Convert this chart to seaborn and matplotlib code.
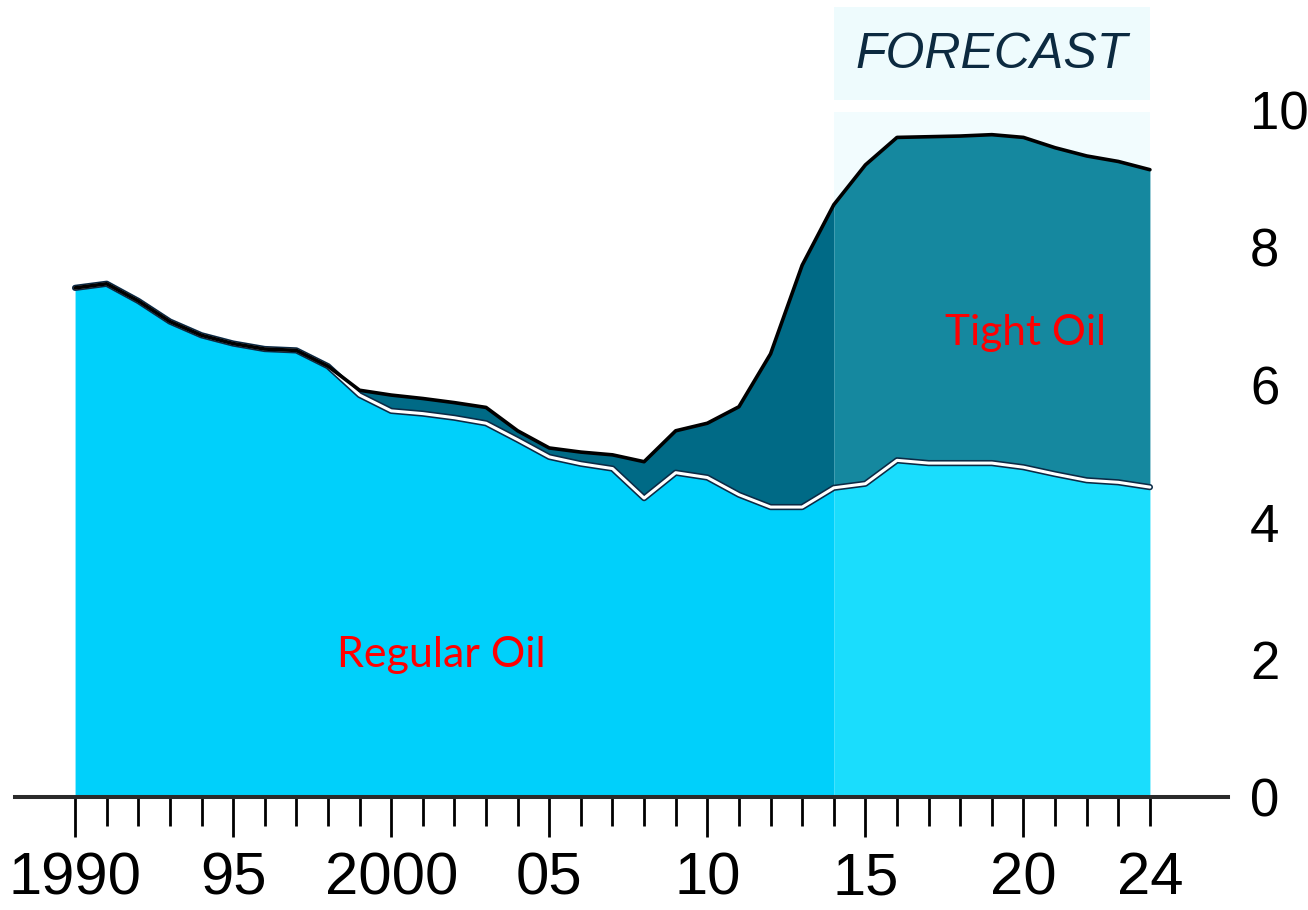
import matplotlib
matplotlib.use("Agg")
import matplotlib.pyplot as plt
import seaborn as sns
import numpy as np
import pandas as pd

# =========================================
# DATA (million barrels per day)
# =========================================

years = list(range(1990, 2025))

total_oil = [7.41, 7.47, 7.22, 6.92, 6.72, 6.60, 6.52, 6.50, 6.27, 5.92,
             5.85, 5.80, 5.74, 5.67, 5.33, 5.08, 5.02, 4.98, 4.88, 5.33,
             5.44, 5.68, 6.45, 7.74, 8.62, 9.20, 9.60, 9.61, 9.62, 9.64,
             9.60, 9.45, 9.33, 9.25, 9.13]

regular_oil = [7.41, 7.47, 7.22, 6.92, 6.72, 6.60, 6.52, 6.50, 6.27, 5.85,
               5.62, 5.58, 5.52, 5.44, 5.20, 4.95, 4.85, 4.78, 4.35, 4.72,
               4.65, 4.40, 4.22, 4.22, 4.50, 4.56, 4.90, 4.86, 4.86, 4.86,
               4.80, 4.70, 4.61, 4.58, 4.51]

forecast_start = 2014
forecast_end = 2024

xtick_pos = [1990, 1995, 2000, 2005, 2010, 2015, 2020, 2024]
xtick_labels = ["1990", "95", "2000", "05", "10", "15", "20", "24"]
ytick_pos = [0, 2, 4, 6, 8, 10]

df = pd.DataFrame({"year": years, "total": total_oil, "regular": regular_oil})
hist = df["year"] <= forecast_start
fcst = df["year"] >= forecast_start

# =========================================
# STYLE
# =========================================

sns.set_style("white")
plt.rcParams["font.family"] = ["Liberation Sans", "DejaVu Sans"]

fig = plt.figure(figsize=(13.08, 9.10), dpi=100)
ax = fig.add_axes([15 / 1308, 113 / 910, 1213 / 1308, 797 / 910])

# forecast background + label box
ax.axvspan(forecast_start, forecast_end, ymin=0, ymax=9.97 / 11.6,
           color="#f2fcfe", zorder=0, lw=0)
ax.axvspan(forecast_start, forecast_end, ymin=10.15 / 11.6, ymax=11.5 / 11.6,
           color="#eefbfd", zorder=0, lw=0)

# =========================================
# AREAS
# =========================================

ax.fill_between(df["year"], 0, df["regular"], where=hist,
                color="#00d0fb", lw=0, zorder=1)
ax.fill_between(df["year"], 0, df["regular"], where=fcst,
                color="#1addfd", lw=0, zorder=1)
ax.fill_between(df["year"], df["regular"], df["total"], where=hist,
                color="#006a86", lw=0, zorder=1)
ax.fill_between(df["year"], df["regular"], df["total"], where=fcst,
                color="#15889f", lw=0, zorder=1)

sns.lineplot(data=df, x="year", y="regular", color="#0b2a45", lw=4.5,
             ax=ax, zorder=2)
sns.lineplot(data=df, x="year", y="regular", color="white", lw=2.2,
             ax=ax, zorder=3)
sns.lineplot(data=df, x="year", y="total", color="black", lw=2.6,
             ax=ax, zorder=4)

# =========================================
# AXES
# =========================================

ax.set_xlim(1988.1, 2026.47)
ax.set_ylim(0, 11.6)

for s in ["top", "left", "right"]:
    ax.spines[s].set_visible(False)
ax.spines["bottom"].set_color("#2a2a2a")
ax.spines["bottom"].set_linewidth(2.9)
ax.spines["bottom"].set_zorder(5)

ax.set_xticks(xtick_pos)
ax.set_xticklabels(xtick_labels)
ax.set_xticks(years, minor=True)
ax.tick_params(axis="x", which="both", bottom=True, direction="out",
               width=2, color="black", labelcolor="black")
ax.tick_params(axis="x", which="major", length=29, labelsize=43, pad=10)
ax.tick_params(axis="x", which="minor", length=21)
ax.xaxis.get_major_ticks()[-1].tick1line.set_markersize(21)

ax.yaxis.tick_right()
ax.set_yticks(ytick_pos)
ax.tick_params(axis="y", which="both", length=0, labelsize=38, pad=16,
               labelcolor="black")

ax.set_xlabel("")
ax.set_ylabel("")

# =========================================
# TEXT
# =========================================

ax.text(2019.0, 10.8, "FORECAST", ha="center", va="center",
        fontsize=36, fontstyle="italic", color="#0c2a40")
ax.text(2020.06, 6.75, "Tight Oil", ha="center", va="center",
        fontsize=30.5, color="red", family=["Lato", "DejaVu Sans"])
ax.text(2001.6, 2.07, "Regular Oil", ha="center", va="center",
        fontsize=31, color="red", family=["Lato", "DejaVu Sans"])

plt.savefig("out.png", dpi=100)
